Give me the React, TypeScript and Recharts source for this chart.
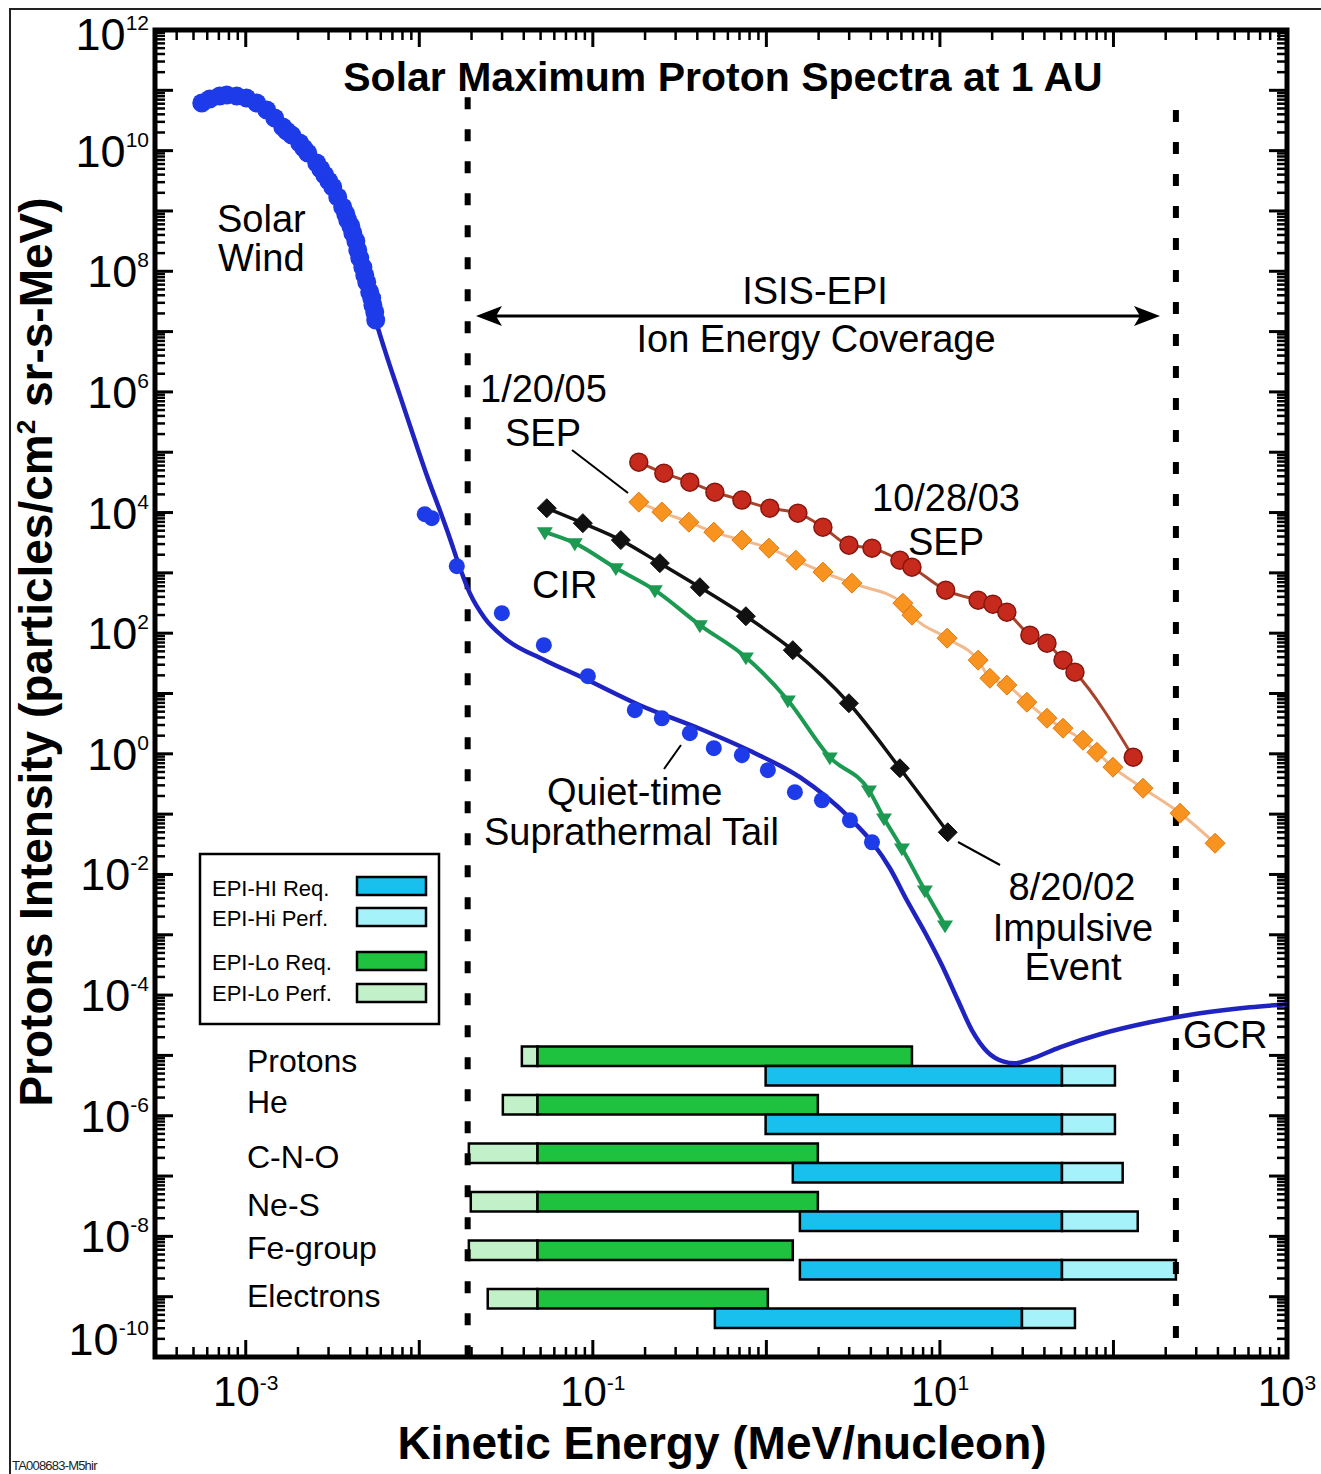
import React from 'react';
import { ComposedChart, Line, Scatter, XAxis, YAxis, ReferenceArea, ReferenceLine } from 'recharts';

// ---------- layout ----------
const W = 1321;
const H = 1474;
const PLOT = { left: 155, top: 30, right: 1287, bottom: 1357 };
const FONT = "'Liberation Sans', Arial, Helvetica, sans-serif";

// ---------- axes ----------
const X_DOMAIN: [number, number] = [3e-4, 1e3];
const Y_DOMAIN: [number, number] = [1e-10, 1e12];
const X_DECADES = [-4, -3, -2, -1, 0, 1, 2, 3];
const Y_DECADES = [-10, -9, -8, -7, -6, -5, -4, -3, -2, -1, 0, 1, 2, 3, 4, 5, 6, 7, 8, 9, 10, 11, 12];
const X_LABEL_EXP = [-3, -1, 1, 3];
const Y_LABEL_EXP = [-10, -8, -6, -4, -2, 0, 2, 4, 6, 8, 10, 12];
const MANTISSAS = [1, 2, 3, 4, 5, 6, 7, 8, 9];

const buildTicks = (decades: number[], dom: [number, number]) => {
  const out: number[] = [];
  decades.forEach((e) =>
    MANTISSAS.forEach((m) => {
      const v = Number((m * Math.pow(10, e)).toPrecision(4));
      if (v >= dom[0] * 0.999 && v <= dom[1] * 1.001) out.push(v);
    })
  );
  return out;
};
const X_TICKS = buildTicks(X_DECADES, X_DOMAIN);
const Y_TICKS = buildTicks(Y_DECADES, Y_DOMAIN);

// ---------- data: [energy MeV/nucleon, intensity] ----------
const SOLAR_WIND: [number, number][] = [
  [5.58e-4, 6.16e10], [6.2e-4, 7.17e10], [7.08e-4, 8.04e10], [7.77e-4, 8.35e10], [8.87e-4, 8.04e10],
  [1.01e-3, 7.45e10], [1.157e-3, 6.16e10], [1.321e-3, 4.71e10], [1.469e-3, 3.47e10], [1.634e-3, 2.46e10],
  [1.722e-3, 2.11e10], [1.841e-3, 1.81e10], [2.047e-3, 1.34e10], [2.16e-3, 1.1e10], [2.277e-3, 9.13e9],
  [2.565e-3, 6.23e9], [2.705e-3, 4.95e9], [2.852e-3, 3.94e9], [3.01e-3, 3.13e9], [3.172e-3, 2.49e9],
  [3.39e-3, 1.7e9], [3.62e-3, 1.16e9], [3.77e-3, 8.88e8], [3.87e-3, 7.07e8], [4.03e-3, 5.62e8],
  [4.14e-3, 4.3e8], [4.31e-3, 3.17e8], [4.42e-3, 2.25e8], [4.54e-3, 1.66e8], [4.73e-3, 1.17e8],
  [4.85e-3, 8.65e7], [4.98e-3, 6.62e7], [5.18e-3, 4.52e7], [5.32e-3, 3.59e7], [5.4e-3, 2.75e7],
  [5.54e-3, 2.11e7], [5.61e-3, 1.55e7],
];
const QUIET_TAIL: [number, number][] = [
  [1.075e-2, 9.41e3], [1.18e-2, 8.07e3], [1.645e-2, 1.29e3], [2.99e-2, 215], [5.22e-2, 63.2],
  [9.36e-2, 19.4], [0.1746, 5.29], [0.2499, 3.89], [0.3623, 2.2], [0.498, 1.24], [0.7226, 0.948],
  [1.02, 0.535], [1.46, 0.231], [2.09, 0.17], [3.03, 0.0792], [4.06, 0.0342],
];
const BLUE_FIT: [number, number][] = [
  [2.047e-3, 1.34e10], [2.565e-3, 6.23e9], [3.172e-3, 2.49e9], [3.87e-3, 7.07e8], [4.42e-3, 2.25e8],
  [4.98e-3, 6.62e7], [5.61e-3, 1.55e7], [6.33e-3, 4.93e6], [7.72e-3, 8.85e5], [9.42e-3, 1.59e5],
  [1.12e-2, 3.72e4], [1.312e-2, 1.1e4], [1.5e-2, 3.76e3], [1.67e-2, 1.5e3], [1.955e-2, 461],
  [2.385e-2, 177], [3.11e-2, 82.6], [5.29e-2, 35.7], [8.64e-2, 18.6], [0.1866, 6.4], [0.4137, 2.6],
  [0.8034, 1.12], [1.56, 0.409], [3.03, 0.0855], [4.11, 0.0329], [5.15, 0.01267], [6.45, 3.73e-3],
  [8.19, 1.1e-3], [10.27, 3.12e-4], [12.7, 8.2e-5], [15.3, 2.61e-5], [18.9, 1.125e-5], [23.1, 7.98e-6],
  [27.1, 7.4e-6], [33.0, 8.62e-6], [49.1, 1.36e-5], [83.6, 2.24e-5], [162, 3.54e-5], [315, 4.99e-5],
  [612, 6.27e-5], [1000, 7.04e-5],
];
const SEP_2003: [number, number][] = [
  [0.184, 6.85e4], [0.2566, 4.5e4], [0.3623, 3.19e4], [0.505, 2.18e4], [0.7226, 1.61e4], [1.047, 1.18e4],
  [1.519, 9.77e3], [2.117, 5.73e3], [2.99, 2.88e3], [4.06, 2.57e3], [5.88, 1.62e3], [6.9, 1.24e3],
  [10.8, 517], [16.6, 353], [20.2, 303], [24.3, 223], [33.0, 92.6], [41.4, 68.3], [51.2, 35.7],
  [60.0, 22.6], [130, 0.878],
];
const SEP_2005: [number, number][] = [
  [0.184, 1.49e4], [0.2499, 1.02e4], [0.3575, 6.93e3], [0.498, 4.73e3], [0.7226, 3.49e3], [1.034, 2.57e3],
  [1.479, 1.62e3], [2.117, 1.03e3], [3.11, 675], [6.12, 314], [6.9, 199], [11.0, 82.6], [16.6, 35.7],
  [19.4, 17.9], [24.3, 13.8], [31.7, 7.17], [41.4, 3.89], [51.2, 2.66], [66.7, 1.68], [80.3, 1.06],
  [99.3, 0.6], [148, 0.269], [242, 0.1035], [385, 0.0329],
];
const IMPULSIVE_2002: [number, number][] = [
  [0.0543, 1.18e4], [0.0876, 6.67e3], [0.145, 3.49e3], [0.2433, 1.45e3], [0.4137, 579], [0.762, 191],
  [1.42, 52.3], [2.99, 6.9], [5.88, 0.577], [11.1, 0.0501],
];
const CIR: [number, number][] = [
  [0.0529, 4.73e3], [0.0787, 3.11e3], [0.1357, 1.2e3], [0.2277, 517], [0.4137, 136], [0.762, 40.0],
  [1.33, 7.74], [2.32, 0.878], [3.9, 0.249], [4.76, 0.0855], [6.04, 0.0272], [8.19, 5.47e-3],
  [10.7, 1.44e-3],
];

// ISIS-EPI coverage (MeV/nucleon)
const EPI_BOUNDS = [0.019, 229];
const ROW_LABELS = ['Protons', 'He', 'C-N-O', 'Ne-S', 'Fe-group', 'Electrons'];
const EPI_LO_PERF_MIN = [0.039, 0.0303, 0.0193, 0.0198, 0.0193, 0.0248];
const EPI_LO_REQ_MIN = [0.048, 0.048, 0.048, 0.048, 0.048, 0.048];
const EPI_LO_MAX = [6.9, 1.98, 1.98, 1.98, 1.42, 1.02];
const EPI_HI_MIN = [0.99, 0.99, 1.42, 1.56, 1.56, 0.505];
const EPI_HI_REQ_MAX = [50.5, 50.5, 50.5, 50.5, 50.5, 29.7];
const EPI_HI_PERF_MAX = [102, 102, 113, 138, 229, 60];

// ---------- styles ----------
const C = {
  blueDot: '#1d3be8',
  blueLine: '#1f24c0',
  red: '#c62a1c',
  redEdge: '#86170f',
  redLine: '#a8442c',
  orange: '#f7931e',
  orangeLine: '#f2b98c',
  black: '#111111',
  green: '#1c9a52',
  hiReq: '#19c0ee',
  hiPerf: '#a6f2fa',
  loReq: '#1fc23e',
  loPerf: '#c2f0c8',
};

const ROW_UNIT_PX = 48.5;
const ROW_DOMAIN: [number, number] = [0, (PLOT.bottom - PLOT.top) / ROW_UNIT_PX];
const ROW_TOP_CENTER = 6;
const BAR_THICK = 0.4;

const toPts = (a: [number, number][]) => a.map(([x, y]) => ({ x, y }));

const isMajor = (v: number) => {
  const e = Math.log10(v);
  return Math.abs(e - Math.round(e)) < 1e-6;
};

const XTick = (props: any) => {
  const { x, payload } = props;
  const v = payload.value;
  const major = isMajor(v);
  const len = major ? 17 : 10;
  const e = Math.round(Math.log10(v));
  const sw = major ? 3 : 2.5;
  return (
    <g>
      <line x1={x} x2={x} y1={PLOT.bottom} y2={PLOT.bottom - len} stroke="#000" strokeWidth={sw} />
      <line x1={x} x2={x} y1={PLOT.top} y2={PLOT.top + len} stroke="#000" strokeWidth={sw} />
      {major && X_LABEL_EXP.includes(e) && (
        <text x={x} y={PLOT.bottom + 49} textAnchor="middle" fontFamily={FONT} fontSize={42} fill="#000">
          10
          <tspan fontSize={21} dy={-16}>{String(e)}</tspan>
        </text>
      )}
    </g>
  );
};

const YTick = (props: any) => {
  const { y, payload } = props;
  const v = payload.value;
  const major = isMajor(v);
  const len = major ? 18 : 10;
  const e = Math.round(Math.log10(v));
  const sw = major ? 3 : 2.5;
  const base = Math.min(Math.max(y + 16, 50), 1355);
  return (
    <g>
      <line x1={PLOT.left} x2={PLOT.left + len} y1={y} y2={y} stroke="#000" strokeWidth={sw} />
      <line x1={PLOT.right} x2={PLOT.right - len} y1={y} y2={y} stroke="#000" strokeWidth={sw} />
      {major && Y_LABEL_EXP.includes(e) && (
        <text x={149} y={base} textAnchor="end" fontFamily={FONT} fontSize={45} fill="#000">
          10
          <tspan fontSize={21} dy={-20}>{String(e)}</tspan>
        </text>
      )}
    </g>
  );
};

const circleDot = (r: number, fill: string, stroke: string) => (p: any) => (
  <circle key={`c${p.index}`} cx={p.cx} cy={p.cy} r={r} fill={fill} stroke={stroke} strokeWidth={1.5} />
);
const diamondDot = (s: number, fill: string, stroke: string) => (p: any) => (
  <path
    key={`d${p.index}`}
    d={`M${p.cx},${p.cy - s}L${p.cx + s},${p.cy}L${p.cx},${p.cy + s}L${p.cx - s},${p.cy}Z`}
    fill={fill}
    stroke={stroke}
    strokeWidth={1}
  />
);
const triDot = (s: number, fill: string) => (p: any) => (
  <path
    key={`t${p.index}`}
    d={`M${p.cx - s},${p.cy - s * 0.6}L${p.cx + s},${p.cy - s * 0.6}L${p.cx},${p.cy + s}Z`}
    fill={fill}
  />
);

const AX = { xAxisId: 'b', yAxisId: 'l' } as const;

export default function App() {
  const bars: React.ReactNode[] = [];
  ROW_LABELS.forEach((_, i) => {
    const c = ROW_TOP_CENTER - i;
    const common = { xAxisId: 'b', yAxisId: 'rows', stroke: '#000', strokeWidth: 2.5, fillOpacity: 1, ifOverflow: 'visible' as const };
    bars.push(<ReferenceArea key={`lp${i}`} {...common} x1={EPI_LO_PERF_MIN[i]} x2={EPI_LO_REQ_MIN[i]} y1={c} y2={c + BAR_THICK} fill={C.loPerf} />);
    bars.push(<ReferenceArea key={`lr${i}`} {...common} x1={EPI_LO_REQ_MIN[i]} x2={EPI_LO_MAX[i]} y1={c} y2={c + BAR_THICK} fill={C.loReq} />);
    bars.push(<ReferenceArea key={`hr${i}`} {...common} x1={EPI_HI_MIN[i]} x2={EPI_HI_REQ_MAX[i]} y1={c - BAR_THICK} y2={c} fill={C.hiReq} />);
    bars.push(<ReferenceArea key={`hp${i}`} {...common} x1={EPI_HI_REQ_MAX[i]} x2={EPI_HI_PERF_MAX[i]} y1={c - BAR_THICK} y2={c} fill={C.hiPerf} />);
  });

  const rowLabelBaselines = [1072, 1113, 1168, 1216, 1259, 1307];
  const ann = { fontFamily: FONT, fontSize: 38, fill: '#000' };
  const legendItems = [
    { label: 'EPI-HI Req.', fill: C.hiReq, base: 896, top: 877 },
    { label: 'EPI-Hi Perf.', fill: C.hiPerf, base: 926, top: 908 },
    { label: 'EPI-Lo Req.', fill: C.loReq, base: 970, top: 952 },
    { label: 'EPI-Lo Perf.', fill: C.loPerf, base: 1001, top: 984 },
  ];

  return (
    <div style={{ position: 'absolute', left: 0, top: 0, width: W, height: H, background: '#fff' }}>
      <ComposedChart width={W} height={H} margin={{ top: PLOT.top, right: W - PLOT.right, bottom: H - PLOT.bottom - 60, left: 0 }}>
        <XAxis
          xAxisId="b"
          type="number"
          dataKey="x"
          scale="log"
          domain={X_DOMAIN}
          allowDataOverflow
          ticks={X_TICKS}
          interval={0}
          tick={(p: any) => <XTick {...p} />}
          tickLine={false}
          axisLine={false}
          tickSize={0}
          tickMargin={0}
          height={60}
        />
        <YAxis
          yAxisId="l"
          type="number"
          dataKey="y"
          scale="log"
          domain={Y_DOMAIN}
          allowDataOverflow
          ticks={Y_TICKS}
          interval={0}
          tick={(p: any) => <YTick {...p} />}
          tickLine={false}
          axisLine={false}
          tickSize={0}
          tickMargin={0}
          width={PLOT.left}
        />
        <YAxis yAxisId="rows" type="number" domain={ROW_DOMAIN} allowDataOverflow hide />

        {bars}

        <ReferenceLine {...AX} segment={[{ x: EPI_BOUNDS[0], y: 7.7e10 }, { x: EPI_BOUNDS[0], y: 1e-10 }]} stroke="#000" strokeWidth={6} strokeDasharray="12 20" ifOverflow="visible" />
        <ReferenceLine {...AX} segment={[{ x: EPI_BOUNDS[1], y: 4.7e10 }, { x: EPI_BOUNDS[1], y: 1e-10 }]} stroke="#000" strokeWidth={6} strokeDasharray="12 20" ifOverflow="visible" />

        <Line {...AX} data={toPts(BLUE_FIT)} dataKey="y" type="monotone" stroke={C.blueLine} strokeWidth={4.5} dot={false} isAnimationActive={false} />
        <Scatter {...AX} data={toPts(SOLAR_WIND)} isAnimationActive={false} shape={(p: any) => <circle cx={p.cx} cy={p.cy} r={9.5} fill={C.blueDot} />} />
        <Scatter {...AX} data={toPts(QUIET_TAIL)} isAnimationActive={false} shape={(p: any) => <circle cx={p.cx} cy={p.cy} r={8} fill={C.blueDot} />} />

        <Line {...AX} data={toPts(CIR)} dataKey="y" type="monotone" stroke={C.green} strokeWidth={4} dot={triDot(8, C.green)} isAnimationActive={false} />
        <Line {...AX} data={toPts(IMPULSIVE_2002)} dataKey="y" type="monotone" stroke={C.black} strokeWidth={3.5} dot={diamondDot(9.5, C.black, C.black)} isAnimationActive={false} />
        <Line {...AX} data={toPts(SEP_2005)} dataKey="y" type="monotone" stroke={C.orangeLine} strokeWidth={3} dot={diamondDot(10, C.orange, '#e07a10')} isAnimationActive={false} />
        <Line {...AX} data={toPts(SEP_2003)} dataKey="y" type="monotone" stroke={C.redLine} strokeWidth={3} dot={circleDot(9, C.red, C.redEdge)} isAnimationActive={false} />

        <ReferenceArea {...AX} x1={X_DOMAIN[0]} x2={X_DOMAIN[1]} y1={Y_DOMAIN[0]} y2={Y_DOMAIN[1]} fill="none" fillOpacity={0} stroke="#000" strokeWidth={5} ifOverflow="visible" />
      </ComposedChart>

      <svg width={W} height={H} style={{ position: 'absolute', left: 0, top: 0, pointerEvents: 'none' }}>
        <rect x={10} y={9} width={1340} height={1500} fill="none" stroke="#222" strokeWidth={2} />

        <text x={723} y={91} textAnchor="middle" fontFamily={FONT} fontWeight="bold" fontSize={41}>
          Solar Maximum Proton Spectra at 1 AU
        </text>

        <text x={722} y={1459} textAnchor="middle" fontFamily={FONT} fontWeight="bold" fontSize={46}>
          Kinetic Energy (MeV/nucleon)
        </text>
        <text x={52} y={652} transform="rotate(-90 52 652)" textAnchor="middle" fontFamily={FONT} fontWeight="bold" fontSize={46}>
          Protons Intensity (particles/cm<tspan fontSize={26} dy={-17}>2</tspan>
          <tspan dy={17}> sr-s-MeV)</tspan>
        </text>

        <text {...ann} x={217} y={232}>Solar</text>
        <text {...ann} x={218} y={271}>Wind</text>

        <text {...ann} x={815} y={304} textAnchor="middle">ISIS-EPI</text>
        <text {...ann} x={816} y={352} textAnchor="middle">Ion Energy Coverage</text>
        <line x1={495} x2={1140} y1={316} y2={316} stroke="#000" strokeWidth={3} />
        <path d="M476,316 L502,306 L496,316 L502,326 Z" fill="#000" />
        <path d="M1160,316 L1134,306 L1140,316 L1134,326 Z" fill="#000" />

        <text {...ann} x={480} y={402}>1/20/05</text>
        <text {...ann} x={505} y={446}>SEP</text>
        <line x1={572} y1={450} x2={628} y2={493} stroke="#000" strokeWidth={2} />

        <text {...ann} x={872} y={511}>10/28/03</text>
        <text {...ann} x={908} y={555}>SEP</text>

        <text {...ann} x={532} y={598}>CIR</text>

        <text {...ann} x={547} y={805}>Quiet-time</text>
        <text {...ann} x={484} y={845}>Suprathermal Tail</text>
        <line x1={681} y1={745} x2={664} y2={769} stroke="#000" strokeWidth={2} />

        <text {...ann} x={1072} y={900} textAnchor="middle">8/20/02</text>
        <text {...ann} x={1073} y={941} textAnchor="middle">Impulsive</text>
        <text {...ann} x={1073} y={980} textAnchor="middle">Event</text>
        <line x1={958} y1={842} x2={1000} y2={865} stroke="#000" strokeWidth={2} />

        <text {...ann} x={1183} y={1048}>GCR</text>

        {ROW_LABELS.map((r, i) => (
          <text key={r} fontFamily={FONT} fontSize={32} x={247} y={rowLabelBaselines[i]}>
            {r}
          </text>
        ))}

        <rect x={200} y={854} width={239} height={170} fill="#fff" stroke="#000" strokeWidth={2.5} />
        {legendItems.map((it) => (
          <g key={it.label}>
            <text fontFamily={FONT} fontSize={22} x={212} y={it.base}>{it.label}</text>
            <rect x={357} y={it.top} width={69} height={18} fill={it.fill} stroke="#000" strokeWidth={2.5} />
          </g>
        ))}

        <text x={12} y={1470} fontFamily={FONT} fontSize={13} letterSpacing={-0.8} fill="#222">TA008683-M5hir</text>
      </svg>
    </div>
  );
}
